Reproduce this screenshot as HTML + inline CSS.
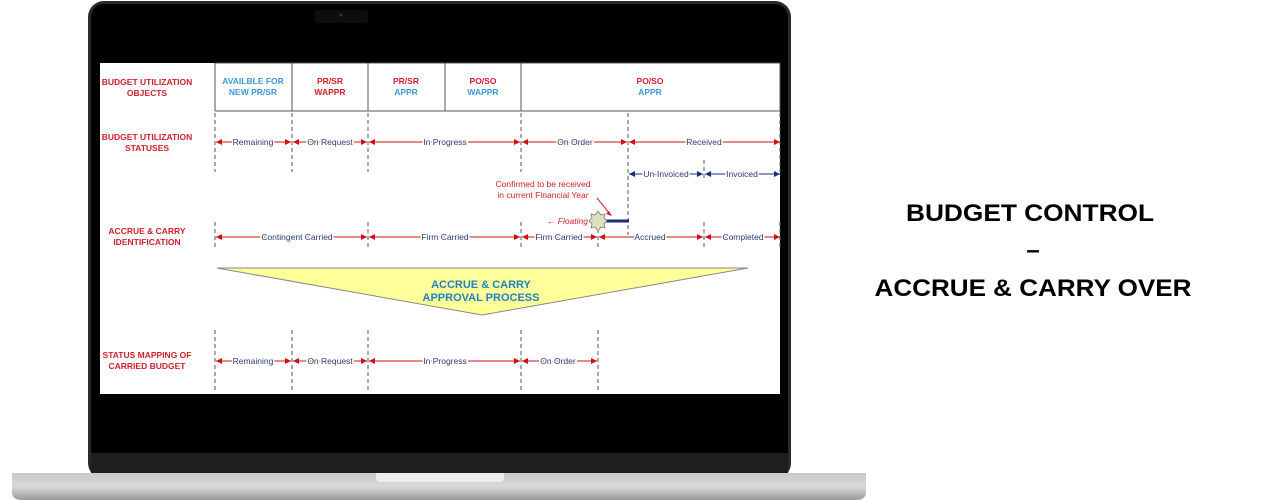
<!DOCTYPE html>
<html><head><meta charset="utf-8"><style>
html,body{margin:0;padding:0;background:#fff;width:1280px;height:500px;overflow:hidden}
svg{display:block}
</style></head><body>
<svg width="1280" height="500" viewBox="0 0 1280 500" xmlns="http://www.w3.org/2000/svg" font-family="Liberation Sans, Arial, sans-serif">
<defs>
<marker id="r" viewBox="0 0 10 10" refX="10" refY="5" markerWidth="6" markerHeight="6" orient="auto-start-reverse"><path d="M0,0L10,5L0,10z" fill="#d01010"/></marker>
<marker id="b" viewBox="0 0 10 10" refX="10" refY="5" markerWidth="6" markerHeight="6" orient="auto-start-reverse"><path d="M0,0L10,5L0,10z" fill="#1a2f7a"/></marker>
<linearGradient id="base" x1="0" y1="0" x2="0" y2="1"><stop offset="0" stop-color="#c9c9c9"/><stop offset="0.5" stop-color="#d8d8d8"/><stop offset="1" stop-color="#9a9a9a"/></linearGradient>
</defs>
<!-- laptop lid -->
<rect x="88" y="1" width="703" height="478" rx="16" fill="#2a2a2a"/>
<rect x="91" y="4" width="697" height="471" rx="13" fill="#000"/>
<rect x="315" y="10" width="53" height="13" rx="3" fill="#0d0d0d"/>
<circle cx="341" cy="15" r="1.5" fill="#333"/>
<rect x="91" y="453" width="697" height="22" fill="#1e1e1e"/>
<!-- base -->
<path d="M12,473 H866 V492 Q866,500 856,500 H22 Q12,500 12,492 Z" fill="url(#base)"/>
<path d="M376,473 H504 V478 Q504,482 498,482 H382 Q376,482 376,478 Z" fill="#eee"/>
<!-- screen -->
<rect x="100" y="63" width="680" height="331" fill="#fff"/>
<g stroke="#555" stroke-width="1" fill="none">
<path d="M215,63V111M292,63V111M368,63V111M445,63V111M521,63V111M780,63V111M215,111H780M215,63H780"/>
</g>
<g font-size="8.5" font-weight="bold" text-anchor="middle">
<text x="147" y="85" fill="#d0202a">BUDGET UTILIZATION</text><text x="147" y="96" fill="#d0202a">OBJECTS</text>
<text x="147" y="140" fill="#d0202a">BUDGET UTILIZATION</text><text x="147" y="151" fill="#d0202a">STATUSES</text>
<text x="147" y="234" fill="#d0202a">ACCRUE &amp; CARRY</text><text x="147" y="245" fill="#d0202a">IDENTIFICATION</text>
<text x="147" y="358" fill="#d0202a">STATUS MAPPING OF</text><text x="147" y="369" fill="#d0202a">CARRIED BUDGET</text>
<text x="253" y="84" fill="#3a9ad9">AVAILBLE FOR</text><text x="253" y="95" fill="#3a9ad9">NEW PR/SR</text>
<text x="330" y="84" fill="#d0202a">PR/SR</text><text x="330" y="95" fill="#d0202a">WAPPR</text>
<text x="406" y="84" fill="#d0202a">PR/SR</text><text x="406" y="95" fill="#3a9ad9">APPR</text>
<text x="483" y="84" fill="#d0202a">PO/SO</text><text x="483" y="95" fill="#3a9ad9">WAPPR</text>
<text x="650" y="84" fill="#d0202a">PO/SO</text><text x="650" y="95" fill="#3a9ad9">APPR</text>
</g>
<!-- dashed verticals -->
<g stroke="#555" stroke-width="1" stroke-dasharray="4,3">
<path d="M215,113V172M292,113V172M368,113V172M521,113V172M628,113V235M780,113V172M704,160V180"/>
<path d="M215,222V248M368,222V248M521,222V248M598,222V248M704,222V248M780,222V248"/>
<path d="M215,330V392M292,330V392M368,330V392M521,330V392M598,330V392"/>
</g>
<g stroke="#d01010" stroke-width="1" marker-start="url(#r)" marker-end="url(#r)">
<line x1="216" y1="142" x2="291" y2="142"/><line x1="293" y1="142" x2="367" y2="142"/><line x1="369" y1="142" x2="520" y2="142"/><line x1="522" y1="142" x2="627" y2="142"/><line x1="629" y1="142" x2="780" y2="142"/>
<line x1="216" y1="237" x2="367" y2="237"/><line x1="369" y1="237" x2="520" y2="237"/><line x1="522" y1="237" x2="597" y2="237"/><line x1="599" y1="237" x2="703" y2="237"/><line x1="705" y1="237" x2="780" y2="237"/>
<line x1="216" y1="361" x2="291" y2="361"/><line x1="293" y1="361" x2="367" y2="361"/><line x1="369" y1="361" x2="520" y2="361"/><line x1="522" y1="361" x2="597" y2="361"/>
</g>
<g stroke="#1a2f7a" stroke-width="1" marker-start="url(#b)" marker-end="url(#b)">
<line x1="629" y1="174" x2="703" y2="174"/><line x1="705" y1="174" x2="780" y2="174"/>
</g>
<g font-size="8.5" fill="#2a3a70" text-anchor="middle" stroke="#fff" stroke-width="3" paint-order="stroke">
<text x="253" y="145">Remaining</text><text x="330" y="145">On Request</text><text x="445" y="145">In Progress</text><text x="575" y="145">On Order</text><text x="704" y="145">Received</text>
<text x="666" y="177">Un-Invoiced</text><text x="742" y="177">Invoiced</text>
<text x="297" y="240">Contingent Carried</text><text x="445" y="240">Firm Carried</text><text x="559" y="240">Firm Carried</text><text x="650" y="240">Accrued</text><text x="743" y="240">Completed</text>
<text x="253" y="364">Remaining</text><text x="330" y="364">On Request</text><text x="445" y="364">In Progress</text><text x="558" y="364">On Order</text>
</g>
<!-- floating annotation -->
<text x="543" y="187" font-size="8.5" fill="#d0202a" text-anchor="middle">Confirmed to be received</text>
<text x="543" y="198" font-size="8.5" fill="#d0202a" text-anchor="middle">in current Financial Year</text>
<line x1="597" y1="198" x2="610" y2="214" stroke="#d0202a" stroke-width="1"/>
<path d="M612,216l-6,-2l3,-3z" fill="#d0202a"/>
<text x="588" y="224" font-size="8.5" font-style="italic" fill="#d0202a" text-anchor="end">← Floating</text>
<line x1="603" y1="221" x2="629" y2="221" stroke="#1a2f7a" stroke-width="3"/>
<polygon points="598,211 601,215 605,214 604,218 607,221 604,224 605,228 601,227 598,231 595,227 591,228 592,224 589,221 592,218 591,214 595,215" fill="#e0e0c0" stroke="#777" stroke-width="0.8"/>
<!-- triangle -->
<polygon points="217,268 748,268 482,315" fill="#ffff99" stroke="#888" stroke-width="1"/>
<text x="481" y="288" font-size="11" font-weight="bold" fill="#1f7fc8" text-anchor="middle">ACCRUE &amp; CARRY</text>
<text x="481" y="301" font-size="11" font-weight="bold" fill="#1f7fc8" text-anchor="middle">APPROVAL PROCESS</text>
<!-- right title -->
<g font-size="24" font-weight="bold" fill="#000" text-anchor="middle">
<text x="1030" y="221" textLength="248" lengthAdjust="spacingAndGlyphs">BUDGET CONTROL</text>
<text x="1033" y="258">–</text>
<text x="1033" y="296" textLength="317" lengthAdjust="spacingAndGlyphs">ACCRUE &amp; CARRY OVER</text>
</g>
</svg>
</body></html>
